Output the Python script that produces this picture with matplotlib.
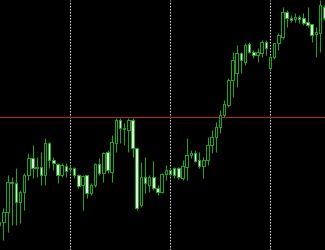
import matplotlib
matplotlib.use("Agg")
from matplotlib import pyplot as plt

# OHLC per bar (price levels, arbitrary units)
opens = [25, 28, 38, 67, 67, 48, 58, 75, 92, 82, 83, 75, 107, 90, 86, 75, 84, 81, 82, 75,
         65, 75, 57, 65, 86, 77, 98, 78, 107, 130, 121, 120, 130, 102, 45, 73, 65, 73, 62, 58,
         76, 80, 82, 82, 72, 83, 95, 97, 90, 84, 90, 105, 113, 123, 135, 145, 170, 177, 197, 188,
         206, 198, 195, 197, 208, 182, 193, 207, 213, 238, 232, 231, 233, 232, 228, 226, 216, 217, 243]
highs = [35, 42, 75, 73, 82, 60, 77, 97, 105, 93, 98, 112, 108, 93, 87, 87, 87, 85, 83, 76,
         75, 75, 67, 87, 92, 98, 100, 115, 132, 132, 127, 132, 132, 102, 88, 93, 75, 89, 65, 77,
         85, 82, 83, 83, 90, 112, 100, 100, 98, 93, 113, 120, 128, 140, 150, 172, 198, 205, 198, 207,
         208, 200, 202, 210, 210, 194, 207, 217, 243, 240, 235, 237, 235, 237, 243, 226, 223, 250, 245]
lows = [10, 10, 18, 25, 25, 27, 40, 70, 72, 73, 65, 65, 82, 80, 67, 73, 73, 78, 72, 62,
        40, 52, 55, 63, 75, 68, 77, 68, 98, 107, 105, 98, 93, 40, 43, 57, 58, 60, 55, 57,
        70, 74, 72, 71, 70, 70, 92, 88, 82, 72, 85, 97, 98, 117, 133, 143, 153, 163, 177, 185,
        197, 192, 188, 193, 195, 180, 191, 200, 211, 223, 228, 228, 227, 225, 223, 208, 193, 198, 230]
closes = [28, 38, 68, 68, 48, 58, 75, 92, 82, 83, 75, 107, 90, 87, 75, 85, 79, 82, 75, 64,
          74, 57, 65, 86, 77, 97, 80, 108, 130, 122, 122, 130, 102, 42, 73, 67, 73, 62, 58, 76,
          80, 76, 75, 73, 84, 95, 97, 89, 84, 90, 105, 113, 123, 135, 146, 170, 190, 197, 190, 205,
          198, 195, 198, 208, 202, 193, 207, 215, 238, 232, 230, 233, 231, 227, 225, 215, 218, 245, 232]
level = 133.5
grid_bars = [17, 41, 65]

wick = '#2e9a2e'
fig = plt.figure(figsize=(3.25, 2.5), dpi=100, facecolor='black')
ax = fig.add_axes([0, 0, 1, 1])
ax.set_facecolor('black')

xs = list(range(len(opens)))
ax.vlines(xs, lows, highs, color=wick, linewidth=0.8, zorder=2)
for i in xs:
    o, c = opens[i], closes[i]
    bottom = min(o, c)
    h = max(abs(c - o), 1)
    fc = 'black' if c >= o else '#e0f8e0'
    ax.bar(i, h, bottom=bottom, width=0.62, facecolor=fc, edgecolor=wick,
           linewidth=0.8, zorder=3)

for g in grid_bars:
    ax.axvline(g, color='#c8c8c8', linewidth=0.8, linestyle=(0, (1.5, 1.2)), zorder=1)
ax.axhline(level, color='#b02828', linewidth=0.75, zorder=1)

ax.set_xlim(0.2, 78.2)
ax.set_ylim(0, 250)
ax.axis('off')
fig.savefig('out.png', dpi=100, facecolor='black')
